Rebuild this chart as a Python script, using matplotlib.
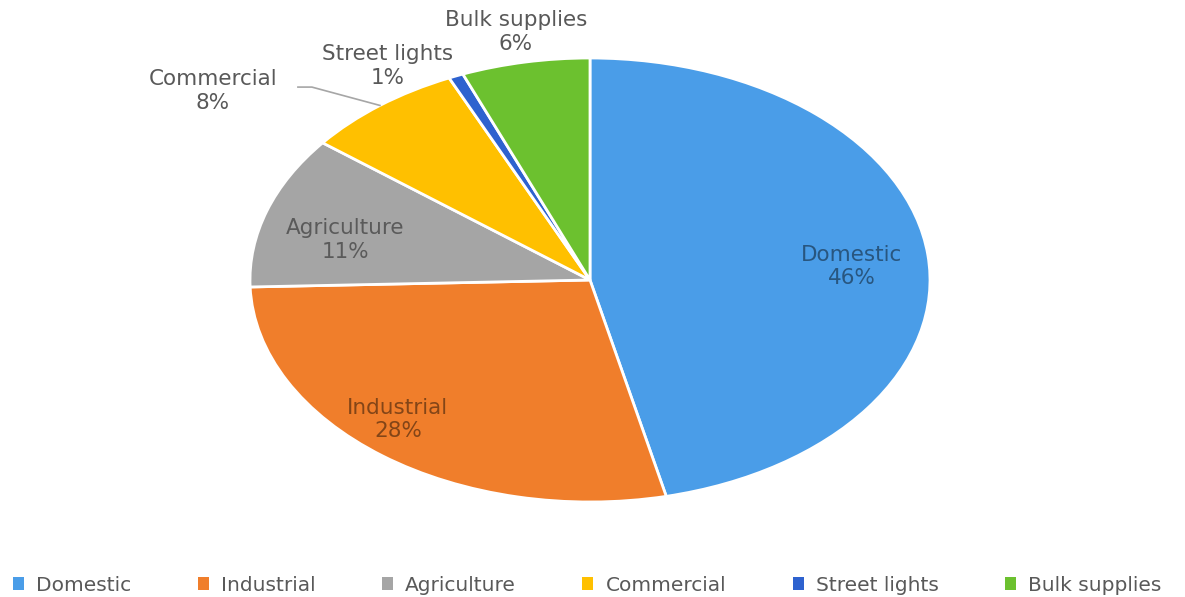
import numpy as np
import matplotlib
matplotlib.use("Agg")
from matplotlib import pyplot as plt
from matplotlib.patches import Patch

# consumption share by category (percent)
categories = ["Domestic", "Industrial", "Agriculture", "Commercial", "Street lights", "Bulk supplies"]
shares = [46.4, 28.1, 11.1, 7.6, 0.7, 6.1]
colors = ["#4A9DE8", "#F07E2B", "#A5A5A5", "#FFC000", "#2E62CF", "#6CC12F"]

# where each label sits, in pie units (x along the long radius, y along the short one)
label_xy = [(0.77, 0.06), (-0.565, -0.63), (-0.72, 0.18),
            (-1.109, 0.851), (-0.594, 0.964), (-0.218, 1.117)]
inside = [True, True, True, False, False, False]

plt.rcParams['font.family'] = ['DejaVu Sans']

fig = plt.figure(figsize=(11.85, 5.97), dpi=100)
ax = fig.add_axes([250 / 1185, 95 / 597, 680 / 1185, 444 / 597])

wedges, _ = ax.pie(shares, colors=colors, startangle=90, counterclock=False,
                   wedgeprops=dict(edgecolor="white", linewidth=2))
ax.set_aspect('auto')
ax.set_xlim(-1, 1)
ax.set_ylim(-1, 1)
ax.axis('off')

for i, (name, val) in enumerate(zip(categories, shares)):
    x, y = label_xy[i]
    txt = f"{name}\n{round(val)}%"
    if inside[i]:
        ax.text(x, y, txt, ha='center', va='center', fontsize=15.5,
                color='black', alpha=0.45, linespacing=1.2, clip_on=False)
    else:
        ax.text(x, y, txt, ha='center', va='center', fontsize=15.5,
                color='#595959', linespacing=1.2, clip_on=False)

# leader line for the Commercial label
w = wedges[3]
mid = np.deg2rad((w.theta1 + w.theta2) / 2)
ax.plot([np.cos(mid), -0.818, -0.859], [np.sin(mid), 0.869, 0.869],
        color='#A6A6A6', lw=1.2, clip_on=False)

handles = [Patch(facecolor=c, edgecolor='none') for c in colors]
fig.legend(handles, categories, loc='center', bbox_to_anchor=(0.4955, 0.02),
           ncol=6, frameon=False, fontsize=14.5, handlelength=0.55, handleheight=0.55,
           handletextpad=0.6, columnspacing=3.3, labelcolor='#595959')

fig.savefig("out.png", dpi=100)
